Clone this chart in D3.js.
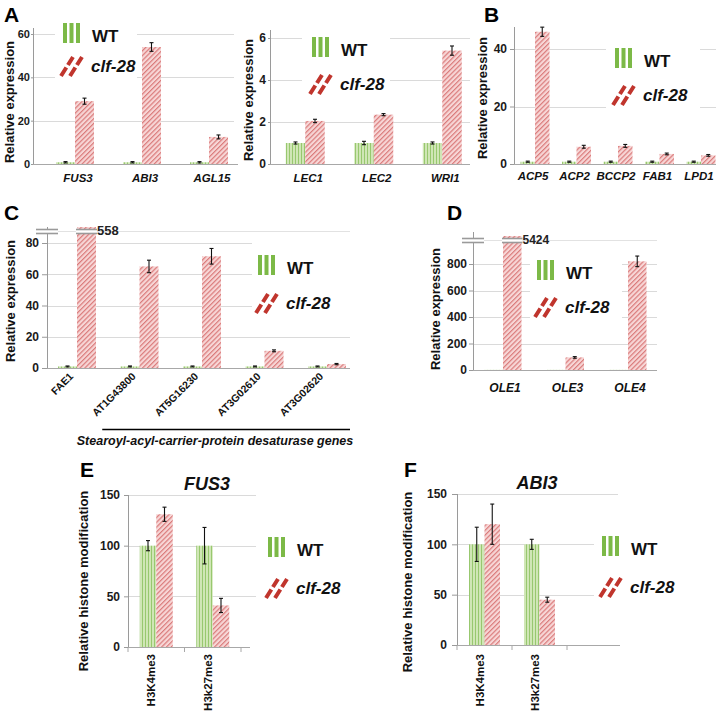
<!DOCTYPE html>
<html><head><meta charset="utf-8">
<script src="https://cdn.jsdelivr.net/npm/d3@7"></script>
<style>
body{margin:0;background:#fff;}
text{font-family:"Liberation Sans",Arial,Helvetica,sans-serif;}
</style>
</head><body><script>
// ---------- DATA ----------
// Panel A (left)
const aGenes   = ["FUS3", "ABI3", "AGL15"];
const aWT      = [0.8, 0.8, 0.8];
const aWTErr   = [0.3, 0.3, 0.3];
const aClf     = [29, 54, 12.5];
const aClfErr  = [1.4, 2.0, 0.9];
const aTicks   = [0, 20, 40, 60];
// Panel A (right)
const a2Genes  = ["LEC1", "LEC2", "WRI1"];
const a2WT     = [1.0, 1.0, 1.0];
const a2WTErr  = [0.05, 0.08, 0.05];
const a2Clf    = [2.05, 2.35, 5.4];
const a2ClfErr = [0.08, 0.05, 0.22];
const a2Ticks  = [0, 2, 4, 6];
// Panel B
const bGenes   = ["ACP5", "ACP2", "BCCP2", "FAB1", "LPD1"];
const bWT      = [0.8, 0.8, 0.8, 0.8, 0.8];
const bWTErr   = [0.2, 0.2, 0.2, 0.2, 0.2];
const bClf     = [46, 6, 6.3, 3.5, 3.0];
const bClfErr  = [1.6, 0.5, 0.5, 0.3, 0.3];
const bTicks   = [0, 20, 40];
// Panel C
const cGenes   = ["FAE1", "AT1G43800", "AT5G16230", "AT3G02610", "AT3G02620"];
const cWT      = [1, 1, 1, 1, 1];
const cWTErr   = [0.3, 0.3, 0.3, 0.3, 0.3];
const cClf     = [558, 65, 71.5, 11, 2.5];
const cClfErr  = [0, 4, 5, 0.6, 0.4];
const cTicks   = [0, 20, 40, 60, 80];
const cGroupLabel = "Stearoyl-acyl-carrier-protein desaturase genes";
// Panel D
const dGenes   = ["OLE1", "OLE3", "OLE4"];
const dWT      = [1, 1, 1];
const dWTErr   = [0, 0, 0];
const dClf     = [5424, 95, 820];
const dClfErr  = [0, 6, 40];
const dTicks   = [0, 200, 400, 600, 800];
// Panel E (FUS3)
const eMarks   = ["H3K4me3", "H3k27me3"];
const eWT      = [100, 100];
const eWTErr   = [5, 18];
const eClf     = [131, 41];
const eClfErr  = [7, 7];
const eTicks   = [0, 50, 100, 150];
// Panel F (ABI3)
const fMarks   = ["H3K4me3", "H3k27me3"];
const fWT      = [100, 100];
const fWTErr   = [17, 5];
const fClf     = [120, 45];
const fClfErr  = [20, 2.5];
const fTicks   = [0, 50, 100, 150];

// ---------- SETUP ----------
const svg = d3.select("body").append("svg").attr("width", 719).attr("height", 716);
const defs = svg.append("defs");
const pw = defs.append("pattern").attr("id", "wtPat").attr("patternUnits", "userSpaceOnUse")
  .attr("width", 3).attr("height", 6);
pw.append("rect").attr("width", 3).attr("height", 6).attr("fill", "#d0e6b6");
pw.append("rect").attr("x", 1).attr("width", 1).attr("height", 6).attr("fill", "#98c86f");
const pc = defs.append("pattern").attr("id", "clfPat").attr("patternUnits", "userSpaceOnUse")
  .attr("width", 3.4).attr("height", 3.4).attr("patternTransform", "rotate(45)");
pc.append("rect").attr("width", 3.4).attr("height", 3.4).attr("fill", "#f7d6d6");
pc.append("rect").attr("width", 1.2).attr("height", 3.4).attr("fill", "#da7b7b");

function legend(g0, ox, oy, dy, box) {
  const g = g0.append("g");
  g.append("rect").attr("x", box[0]).attr("y", box[1]).attr("width", box[2]).attr("height", box[3]).attr("fill", "#fff");
  const lg = g.append("g").attr("transform", `translate(${ox},${oy})`);
  [0, 6.5, 13].forEach(bx => lg.append("rect").attr("x", bx).attr("y", 0).attr("width", 4).attr("height", 20).attr("fill", "#7cb947"));
  lg.append("text").attr("x", 29).attr("y", 18.5).attr("font-size", 17).attr("font-weight", "bold").attr("fill", "#111").text("WT");
  const cs = lg.append("g").attr("transform", `translate(-3,${dy})`);
  [0, 9].forEach(o => cs.append("line").attr("x1", o + 1).attr("y1", 20).attr("x2", o + 13).attr("y2", 1)
    .attr("stroke", "#c0352d").attr("stroke-width", 4).attr("stroke-dasharray", "10,3"));
  lg.append("text").attr("x", 28).attr("y", dy + 16).attr("font-size", 17).attr("font-weight", "bold")
    .attr("font-style", "italic").attr("fill", "#111").text("clf-28");
}

function brk(g, x1, x2, yb) {
  g.append("rect").attr("x", x1).attr("y", yb).attr("width", x2 - x1).attr("height", 4).attr("fill", "#fff");
  [yb, yb + 4].forEach(yy => g.append("line").attr("x1", x1).attr("x2", x2).attr("y1", yy).attr("y2", yy)
    .attr("stroke", "#9a9a9a").attr("stroke-width", 1.6));
}

function drawPanel(p) {
  const g = svg.append("g");
  const y = d3.scaleLinear().domain([0, p.yRef[0]]).range([p.y0, p.yRef[1]]);
  const x = d3.scaleBand().domain(d3.range(p.slots)).range([p.xStart, p.xStart + p.step * p.slots]);
  const cx = i => x(i) + x.bandwidth() / 2;
  // gridlines
  g.selectAll("line.grid").data(p.ticks.filter(t => t > 0)).join("line").attr("class", "grid")
    .attr("x1", p.axisX).attr("x2", p.gridEnd)
    .attr("y1", d => Math.round(y(d)) + 0.5).attr("y2", d => Math.round(y(d)) + 0.5)
    .attr("stroke", "#dadada");
  if (p.breakY) g.append("line").attr("x1", p.axisX).attr("x2", p.gridEnd)
    .attr("y1", p.breakY + 2).attr("y2", p.breakY + 2).attr("stroke", "#e2e2e2");
  if (p.legend) legend(g, ...p.legend);
  // baseline
  g.append("line").attr("x1", p.axisX).attr("x2", p.baseEnd).attr("y1", y(0) + 0.5).attr("y2", y(0) + 0.5)
    .attr("stroke", "#a8a8a8");
  if (p.xTicks) {
    g.selectAll("line.xt").data(d3.range(p.slots + 1).map(i => p.xStart + i * p.step).filter(v => v <= p.baseEnd))
      .join("line").attr("class", "xt").attr("x1", d => d).attr("x2", d => d)
      .attr("y1", y(0)).attr("y2", y(0) + 5).attr("stroke", "#a8a8a8");
  }
  // bars
  const data = [];
  p.cats.forEach((c, i) => {
    data.push({ i, s: 0, v: p.wt[i], e: p.wtErr[i] });
    data.push({ i, s: 1, v: p.clf[i], e: p.clfErr[i] });
  });
  const bx = d => cx(d.i) + (d.s ? 0 : -p.barW);
  const top = d => y(Math.min(d.v, p.yMax));
  g.selectAll("rect.bar").data(data).join("rect").attr("class", "bar")
    .attr("x", bx).attr("width", p.barW)
    .attr("y", top).attr("height", d => y(0) - top(d))
    .attr("fill", d => d.s ? "url(#clfPat)" : "url(#wtPat)");
  // error bars
  const eb = data.filter(d => d.v <= p.yMax && d.e > 0);
  const ex = d => bx(d) + p.barW / 2;
  g.selectAll("line.ev").data(eb).join("line").attr("class", "ev")
    .attr("x1", ex).attr("x2", ex).attr("y1", d => y(d.v - d.e)).attr("y2", d => y(d.v + d.e))
    .attr("stroke", "#111").attr("stroke-width", 1.1);
  ["m", "p"].forEach(sg => {
    const val = d => sg === "m" ? d.v - d.e : d.v + d.e;
    g.selectAll("line.ec" + sg).data(eb).join("line").attr("class", "ec" + sg)
      .attr("x1", d => ex(d) - 2).attr("x2", d => ex(d) + 2)
      .attr("y1", d => y(val(d))).attr("y2", d => y(val(d)))
      .attr("stroke", "#111").attr("stroke-width", 1.1);
  });
  // y axis
  const ax = g.append("g").attr("transform", `translate(${p.axisX},0)`)
    .call(d3.axisLeft(y).tickValues(p.ticks).tickFormat(d3.format("d"))
      .tickSize(p.tickSize).tickSizeOuter(0).tickPadding(p.tickPad));
  ax.select(".domain").remove();
  ax.selectAll(".tick line").attr("stroke", "#9a9a9a");
  ax.selectAll(".tick text").attr("font-size", p.tickFont).attr("font-weight", "bold").attr("fill", "#1a1a1a");
  g.append("line").attr("x1", p.axisX + 0.5).attr("x2", p.axisX + 0.5).attr("y1", y(0)).attr("y2", p.axisTop)
    .attr("stroke", "#9a9a9a");
  // breaks
  if (p.breakY) {
    brk(g, p.axisX - 11, p.axisX + 11, p.breakY);
    data.filter(d => d.v > p.yMax).forEach(d => {
      brk(g, bx(d) - 1, bx(d) + p.barW + 1, p.breakY);
      g.append("text").attr("x", bx(d) + p.barW + 1).attr("y", p.breakY + 5.5)
        .attr("font-size", p.breakFont).attr("font-weight", "bold").attr("fill", "#222").text(d.v);
    });
  }
  // category labels
  const lab = g.selectAll("text.cat").data(p.cats).join("text").attr("class", "cat")
    .attr("font-weight", "bold").attr("fill", "#111").text(d => d);
  if (p.labelMode === "italic") {
    lab.attr("x", (d, i) => cx(i) + p.labelDx).attr("y", p.labelY).attr("text-anchor", "middle")
      .attr("font-style", "italic").attr("font-size", p.labelFont);
  } else if (p.labelMode === "rot45") {
    lab.attr("text-anchor", "end").attr("font-size", p.labelFont)
      .attr("transform", (d, i) => `translate(${cx(i) - 3},${p.labelY}) rotate(-45)`);
  } else {
    lab.attr("text-anchor", "end").attr("font-size", p.labelFont).attr("dy", "0.35em")
      .attr("transform", (d, i) => `translate(${cx(i) - 5},${p.labelY}) rotate(-90)`);
  }
  // y title
  g.append("text").attr("transform", `translate(${p.yTitle[0]},${p.yTitle[1]}) rotate(-90)`)
    .attr("text-anchor", "middle").attr("dy", "0.35em").attr("font-size", 13).attr("font-weight", "bold")
    .attr("fill", "#111").text(p.yTitle[2]);
  if (p.title) g.append("text").attr("x", p.title[0]).attr("y", p.title[1]).attr("text-anchor", "middle")
    .attr("font-size", 18).attr("font-weight", "bold").attr("font-style", "italic").attr("fill", "#111").text(p.title[2]);
  if (p.letter) g.append("text").attr("x", p.letter[0]).attr("y", p.letter[1]).attr("font-size", 21)
    .attr("font-weight", "bold").attr("fill", "#000").text(p.letter[2]);
  return { g, x, y };
}

const RE = "Relative expression";
const RH = "Relative histone modification";

drawPanel({ cats: aGenes, wt: aWT, wtErr: aWTErr, clf: aClf, clfErr: aClfErr, ticks: aTicks,
  y0: 164, yRef: [60, 34], yMax: 62.8, axisTop: 28, axisX: 33, xStart: 41.5, step: 67, slots: 3, barW: 19,
  gridEnd: 234, baseEnd: 238, tickSize: 2, tickPad: 1, tickFont: 11,
  labelMode: "italic", labelY: 182, labelDx: 3, labelFont: 11.5,
  yTitle: [9, 102, RE], letter: [4, 22, "A"], legend: [63, 23, 33, [55, 18, 82, 60]] });

drawPanel({ cats: a2Genes, wt: a2WT, wtErr: a2WTErr, clf: a2Clf, clfErr: a2ClfErr, ticks: a2Ticks,
  y0: 164, yRef: [6, 38], yMax: 6.38, axisTop: 30, axisX: 270, xStart: 271, step: 68.5, slots: 3, barW: 19.5,
  gridEnd: 470, baseEnd: 470, tickSize: 2, tickPad: 2, tickFont: 12,
  labelMode: "italic", labelY: 182, labelDx: 3, labelFont: 11.5,
  yTitle: [248, 100, RE], legend: [312, 37, 37, [302, 30, 88, 70]] });

drawPanel({ cats: bGenes, wt: bWT, wtErr: bWTErr, clf: bClf, clfErr: bClfErr, ticks: bTicks,
  y0: 164, yRef: [40, 49], yMax: 47.6, axisTop: 27, axisX: 514, xStart: 514.25, step: 41.5, slots: 5, barW: 14.5,
  gridEnd: 716, baseEnd: 716, tickSize: 4, tickPad: 3, tickFont: 12,
  labelMode: "italic", labelY: 180, labelDx: -2, labelFont: 11.5,
  yTitle: [482, 98, RE], letter: [484, 22, "B"], legend: [615, 48, 37, [606, 42, 94, 66]] });

const pC = drawPanel({ cats: cGenes, wt: cWT, wtErr: cWTErr, clf: cClf, clfErr: cClfErr, ticks: cTicks,
  y0: 368, yRef: [80, 243], yMax: 90.2, axisTop: 227, axisX: 47, xStart: 45.75, step: 62.5, slots: 5, barW: 19,
  gridEnd: 350, baseEnd: 350, tickSize: 5, tickPad: 3, tickFont: 12,
  breakY: 229.5, breakFont: 13,
  labelMode: "rot45", labelY: 377, labelFont: 10.5,
  yTitle: [10.5, 301, RE], letter: [4, 220, "C"], legend: [258, 255, 38, [252, 236, 100, 86]] });
// group bracket for desaturase genes
pC.g.append("line").attr("x1", pC.x(1) - 6).attr("x2", 350).attr("y1", 429.5).attr("y2", 429.5)
  .attr("stroke", "#000").attr("stroke-width", 1.5);
pC.g.append("text").attr("x", 215).attr("y", 445).attr("text-anchor", "middle").attr("font-size", 12.5)
  .attr("font-weight", "bold").attr("font-style", "italic").attr("fill", "#111").text(cGroupLabel);

drawPanel({ cats: dGenes, wt: dWT, wtErr: dWTErr, clf: dClf, clfErr: dClfErr, ticks: dTicks,
  y0: 370, yRef: [800, 264], yMax: 1011, axisTop: 232, axisX: 473, xStart: 471.75, step: 62.5, slots: 3, barW: 18.5,
  gridEnd: 657, baseEnd: 657, tickSize: 4, tickPad: 2, tickFont: 12,
  breakY: 238.5, breakFont: 12,
  labelMode: "italic", labelY: 392, labelDx: 2, labelFont: 12,
  yTitle: [435, 309, RE], letter: [447, 220, "D"], legend: [537, 260, 37, [530, 252, 92, 72]] });

drawPanel({ cats: eMarks, wt: eWT, wtErr: eWTErr, clf: eClf, clfErr: eClfErr, ticks: eTicks,
  y0: 647, yRef: [150, 495], yMax: 150, axisTop: 495, axisX: 128, xStart: 128, step: 56.5, slots: 3, barW: 16.5,
  gridEnd: 256, baseEnd: 250, xTicks: true, tickSize: 4, tickPad: 4, tickFont: 12,
  labelMode: "rot90", labelY: 654, labelFont: 11.5,
  yTitle: [83, 581, RH], title: [207, 490, "FUS3"], letter: [80, 477, "E"],
  legend: [268, 537, 41, [262, 528, 80, 76]] });

drawPanel({ cats: fMarks, wt: fWT, wtErr: fWTErr, clf: fClf, clfErr: fClfErr, ticks: fTicks,
  y0: 645, yRef: [150, 494], yMax: 150, axisTop: 494, axisX: 457, xStart: 457, step: 55, slots: 3, barW: 15.5,
  gridEnd: 618, baseEnd: 620, xTicks: true, tickSize: 5, tickPad: 5, tickFont: 12,
  labelMode: "rot90", labelY: 654, labelFont: 11.5,
  yTitle: [407, 582, RH], title: [537, 489, "ABI3"], letter: [404, 477, "F"],
  legend: [602, 536, 41, [594, 528, 90, 76]] });
</script></body></html>
